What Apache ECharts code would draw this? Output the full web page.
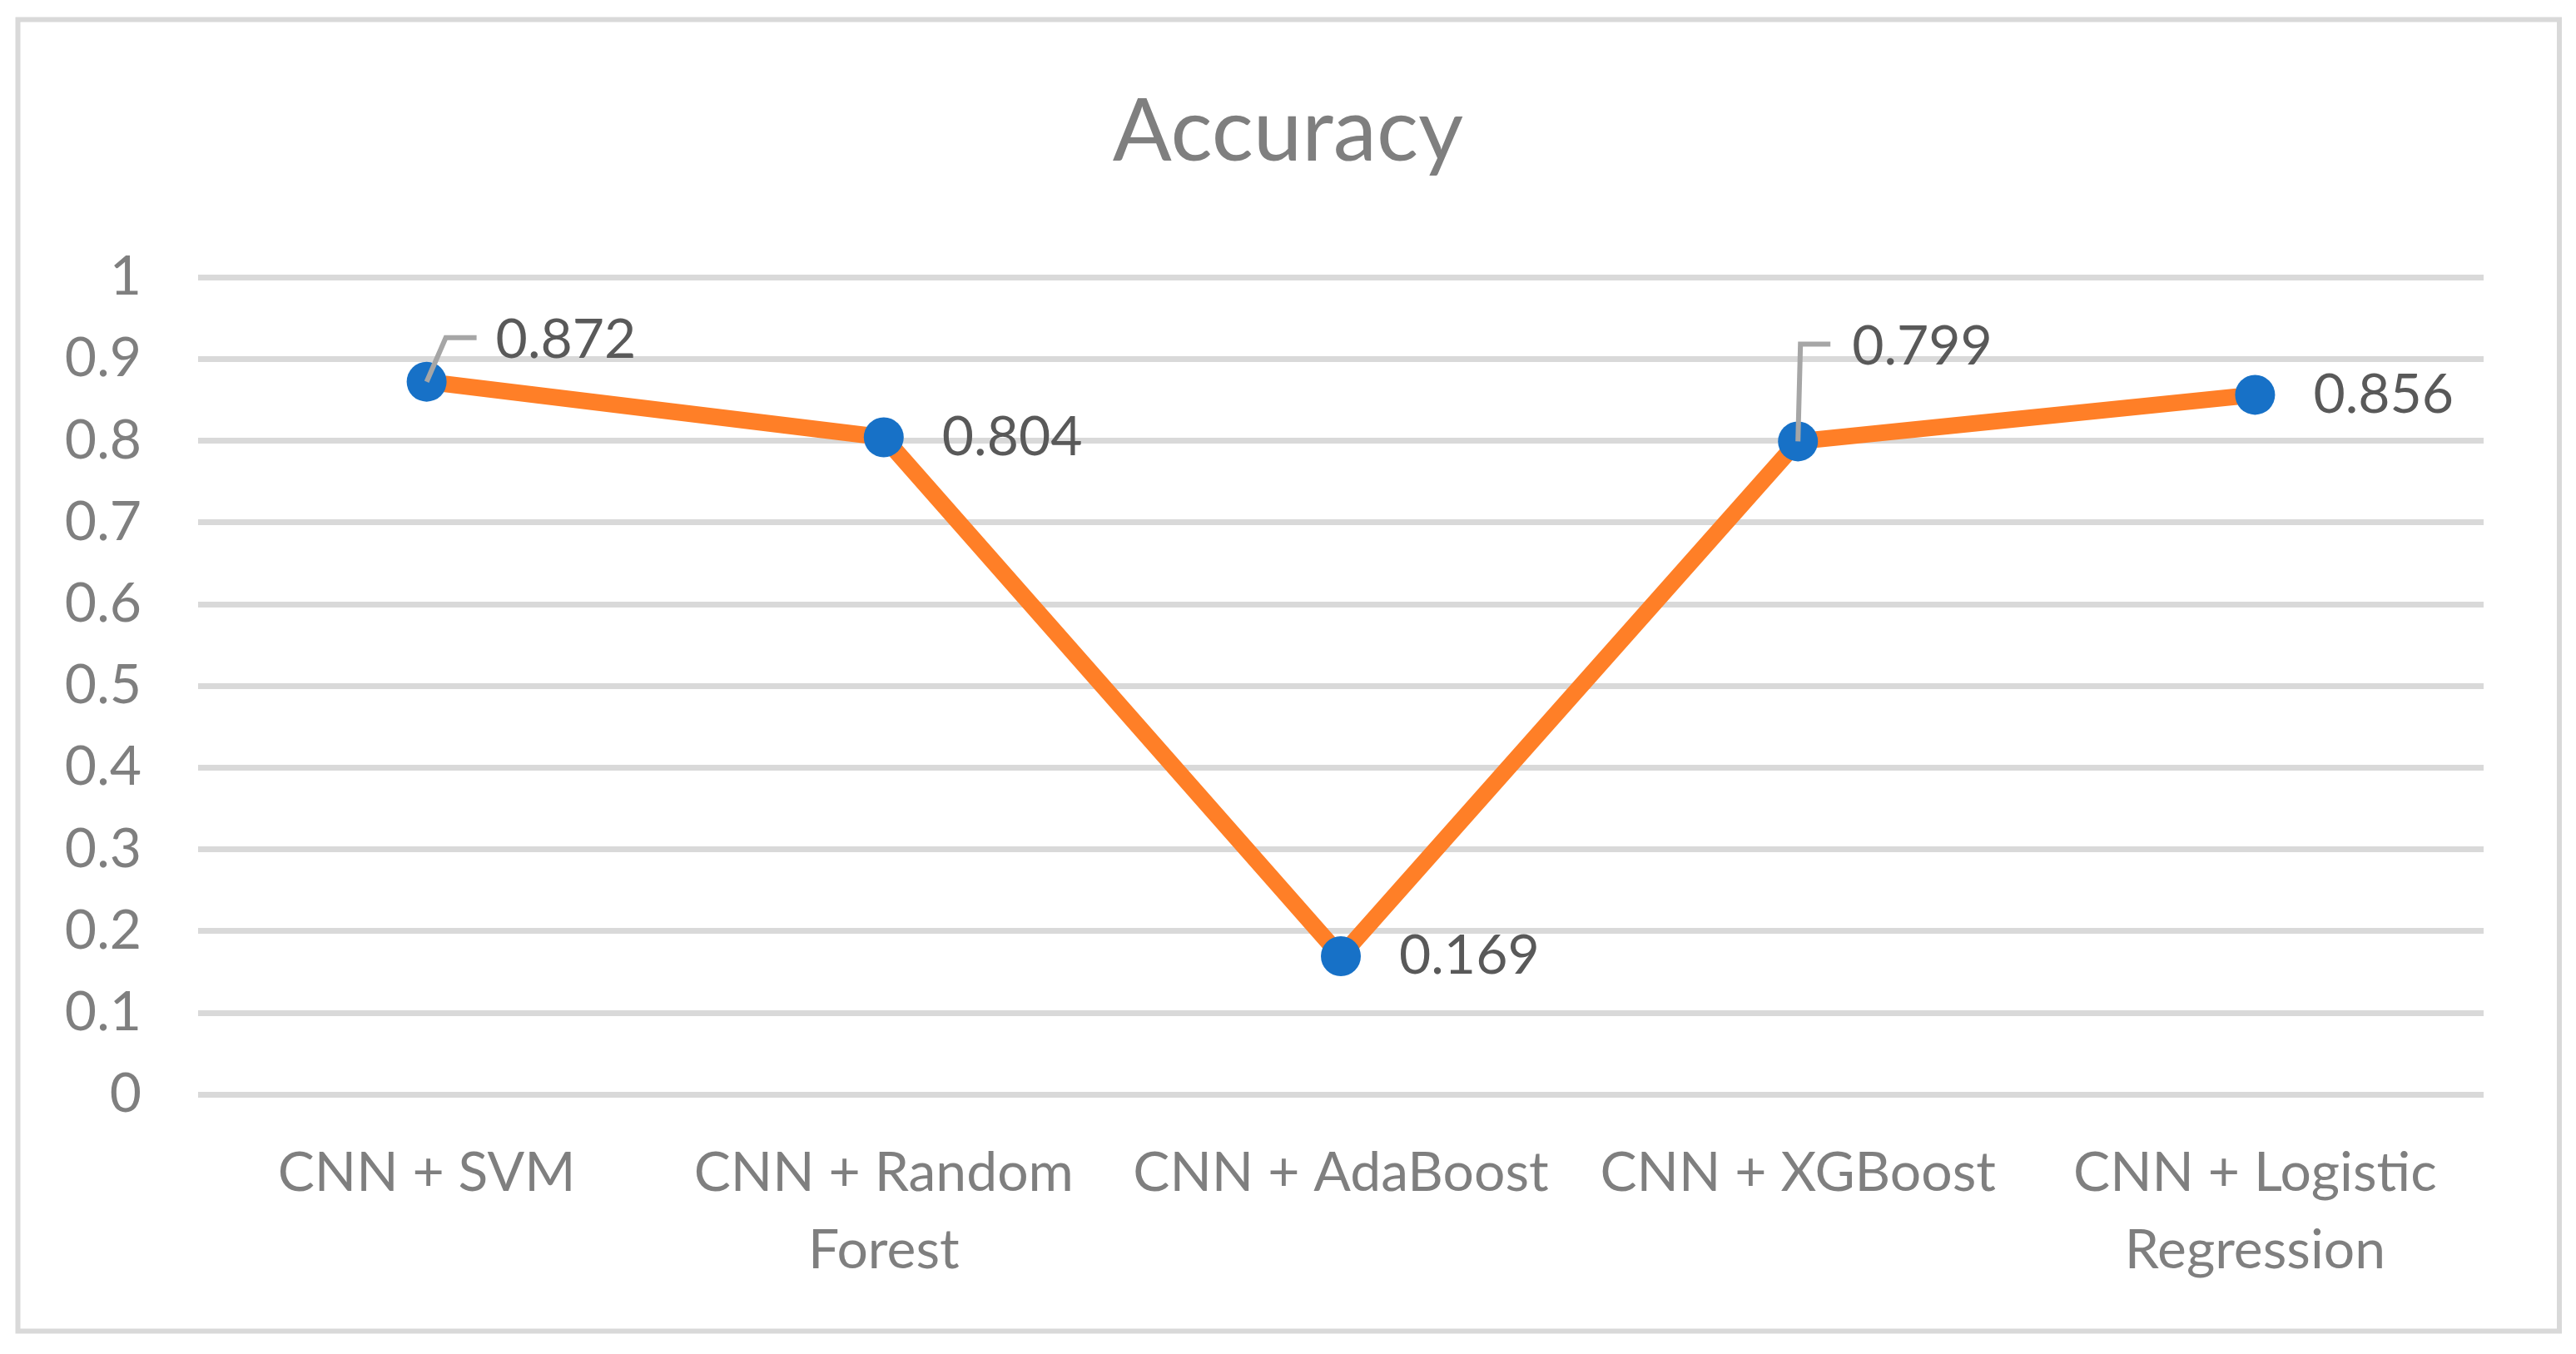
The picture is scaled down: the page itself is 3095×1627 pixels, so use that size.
<!DOCTYPE html>
<html>
<head>
<meta charset="utf-8">
<script src="https://cdn.jsdelivr.net/npm/echarts@6/dist/echarts.min.js"></script>
<style>
  html, body { margin: 0; padding: 0; background: #ffffff; }
  #chart { width: 3095px; height: 1627px; }
</style>
</head>
<body>
<div id="chart"></div>
<script>
// ---- data ----
const titleText = 'Accuracy';
const categories = ['CNN + SVM', 'CNN + Random Forest', 'CNN + AdaBoost', 'CNN + XGBoost', 'CNN + Logistic Regression'];
const accuracy = [0.872, 0.804, 0.169, 0.799, 0.856];
const yTicks = [0, 0.1, 0.2, 0.3, 0.4, 0.5, 0.6, 0.7, 0.8, 0.9, 1];

// ---- styles ----
const FONT = 'Lato';
const AXIS_COLOR = '#7f7f7f';
const LABEL_COLOR = '#595959';
const GRID_COLOR = '#d9d9d9';
const LINE_COLOR = '#FF7F27';
const MARKER_COLOR = '#1771C7';
const LEADER_COLOR = '#a6a6a6';

// label offsets for points that use leader lines (index -> offset)
const labelOffsets = { 0: [13, -50], 3: [-5, -114] };
// leader shapes relative to point centre (index -> points)
const leaderShapes = {
  0: [[0, 0], [23, -53], [60, -53]],
  3: [[0, 0], [3, -117], [39, -117]]
};

const chart = echarts.init(document.getElementById('chart'), null, { renderer: 'canvas' });

const seriesData = accuracy.map((v, i) => {
  const item = { value: v };
  if (labelOffsets[i]) item.label = { offset: labelOffsets[i] };
  return item;
});

function wrapLabel(s) {
  if (s.length <= 14) return s;
  const k = s.lastIndexOf(' ');
  return s.slice(0, k) + '\n' + s.slice(k + 1);
}

const option = {
  backgroundColor: '#ffffff',
  animation: false,
  title: {
    text: titleText,
    left: 'center',
    top: 102,
    textStyle: { fontFamily: FONT, fontSize: 105, fontWeight: 'normal', color: AXIS_COLOR }
  },
  grid: { left: 238, right: 111, top: 333, bottom: 312, containLabel: false },
  xAxis: {
    type: 'category',
    data: categories,
    boundaryGap: true,
    axisLine: { show: false },
    axisTick: { show: false },
    splitLine: { show: false },
    axisLabel: {
      margin: 48,
      fontFamily: FONT,
      fontSize: 66,
      lineHeight: 93,
      color: AXIS_COLOR,
      interval: 0,
      formatter: wrapLabel
    }
  },
  yAxis: {
    type: 'value',
    min: yTicks[0],
    max: yTicks[yTicks.length - 1],
    interval: 0.1,
    axisLine: { show: false },
    axisTick: { show: false },
    axisLabel: {
      margin: 68,
      fontFamily: FONT,
      fontSize: 66,
      color: AXIS_COLOR,
      formatter: v => String(Math.round(v * 10) / 10)
    },
    splitLine: { show: true, lineStyle: { color: GRID_COLOR, width: 7 } }
  },
  series: [{
    type: 'line',
    data: seriesData,
    symbol: 'circle',
    symbolSize: 48,
    itemStyle: { color: MARKER_COLOR, borderWidth: 0 },
    lineStyle: { color: LINE_COLOR, width: 20, cap: 'round', join: 'round' },
    label: {
      show: true,
      position: 'right',
      distance: 46,
      fontFamily: FONT,
      fontSize: 66,
      color: LABEL_COLOR,
      formatter: p => String(p.value)
    },
    z: 3
  }],
  graphic: []
};

chart.setOption(option);

// frame + leader lines computed from the axes
const graphics = [{
  type: 'rect',
  shape: { x: 21.5, y: 23.5, width: 3053.5, height: 1576 },
  style: { fill: null, stroke: GRID_COLOR, lineWidth: 6 },
  z: 0, silent: true
}];
Object.keys(leaderShapes).forEach(k => {
  const i = Number(k);
  const p = chart.convertToPixel({ xAxisIndex: 0, yAxisIndex: 0 }, [i, accuracy[i]]);
  graphics.push({
    type: 'polyline',
    shape: { points: leaderShapes[k].map(d => [p[0] + d[0], p[1] + d[1]]) },
    style: { stroke: LEADER_COLOR, lineWidth: 6, fill: null },
    z: 100, silent: true
  });
});
chart.setOption({ graphic: graphics });
</script>
</body>
</html>
